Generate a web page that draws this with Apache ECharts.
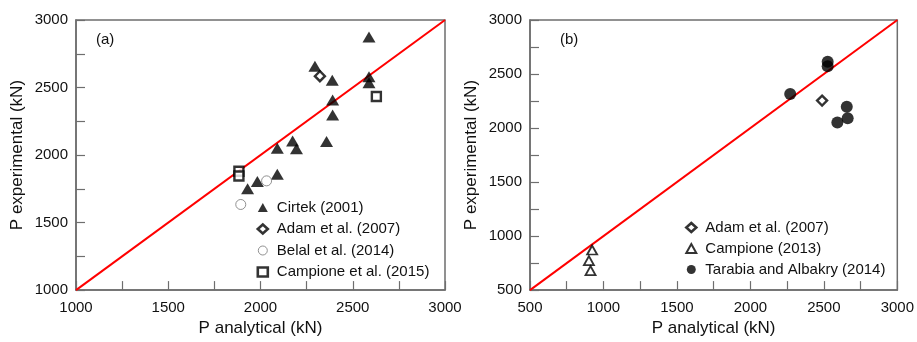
<!DOCTYPE html>
<html>
<head>
<meta charset="utf-8">
<script src="https://cdn.jsdelivr.net/npm/echarts@6/dist/echarts.min.js"></script>
<style>
  html, body { margin: 0; padding: 0; background: #fff; }
  #chart { width: 917px; height: 342px; }
</style>
</head>
<body>
<div id="chart"></div>
<script>
// Panel (a): [P analytical, P experimental] in kN
const cirtek2001 = [
  [2588, 2875], [2295, 2657], [2389, 2553], [2588, 2580], [2588, 2536],
  [2391, 2407], [2391, 2296], [2358, 2100], [2174, 2104], [2195, 2046],
  [2091, 2051], [2091, 1857], [1983, 1804], [1930, 1751]
];
const adam2007a = [[2322, 2584]];
const belal2014 = [[2033, 1809], [1893, 1634]];
const campione2015 = [[1883, 1880], [1883, 1845], [2628, 2434]];

// Panel (b)
const adam2007b = [[2488, 2254]];
const campione2013 = [[923, 871], [901, 772], [912, 681]];
const tarabia2014 = [
  [2526, 2613], [2526, 2572], [2271, 2314], [2656, 2197], [2662, 2091], [2592, 2051]
];

// Equality lines
const equalityA = [[1000, 1000], [3000, 3000]];
const equalityB = [[500, 500], [3000, 3000]];

const FONT = '"Liberation Sans", Arial, sans-serif';
const AXIS_GREY = '#6e6e6e';
const TEXT = '#111';

function valueAxis(min, gridIndex, name, isY) {
  return {
    type: 'value', gridIndex, min, max: 3000, interval: 250,
    name, nameLocation: 'middle', nameGap: isY ? 50 : 27,
    nameTextStyle: { fontFamily: FONT, fontSize: 17, color: TEXT },
    axisLine: { show: true, lineStyle: { color: AXIS_GREY, width: 1.5 } },
    axisTick: { show: true, inside: true, length: 9, lineStyle: { color: AXIS_GREY, width: 1.2 } },
    axisLabel: {
      fontFamily: FONT, fontSize: 15, color: TEXT, margin: isY ? 8 : 10,
      showMinLabel: true, showMaxLabel: true,
      formatter: v => (v % 500 === 0 ? String(v) : '')
    },
    splitLine: { show: false }
  };
}

const hollow = (w, c) => ({ color: '#fff', borderColor: c || '#000', borderWidth: w });

const legendBase = {
  orient: 'vertical', padding: 0, itemWidth: 10, itemHeight: 9,
  textStyle: { fontFamily: FONT, fontSize: 15, color: TEXT, padding: [0, 0, 0, 4] },
  selectedMode: false
};

const option = {
  animation: false,
  backgroundColor: '#fff',
  grid: [
    { left: 76, top: 20, width: 369, height: 275, show: true, borderColor: AXIS_GREY, borderWidth: 1.5, backgroundColor: 'transparent' },
    { left: 530, top: 20, width: 368, height: 276, show: true, borderColor: AXIS_GREY, borderWidth: 1.5, backgroundColor: 'transparent' }
  ],
  xAxis: [
    valueAxis(1000, 0, 'P analytical (kN)', false),
    valueAxis(500, 1, 'P analytical (kN)', false)
  ],
  yAxis: [
    valueAxis(1000, 0, 'P experimental (kN)', true),
    valueAxis(500, 1, 'P experimental (kN)', true)
  ],
  legend: [
    Object.assign({}, legendBase, {
      left: 256.5, top: 200, itemGap: 6.5,
      data: [
        { name: 'Cirtek (2001)', icon: 'triangle', itemStyle: { color: '#000' } },
        { name: 'Adam et al. (2007)', icon: 'diamond', itemStyle: hollow(2.6) },
        { name: 'Belal et al. (2014)', icon: 'circle', itemStyle: hollow(1, '#777') },
        { name: 'Campione et al. (2015)', icon: 'rect', itemStyle: hollow(2.6) }
      ]
    }),
    Object.assign({}, legendBase, {
      left: 685, top: 220, itemGap: 6,
      data: [
        { name: 'Adam et al. (2007)', icon: 'diamond', itemStyle: hollow(2.6) },
        { name: 'Campione (2013)', icon: 'triangle', itemStyle: hollow(2) },
        { name: 'Tarabia and Albakry (2014)', icon: 'circle', itemStyle: { color: '#000' } }
      ]
    })
  ],
  graphic: [
    { type: 'text', left: 96, top: 32, style: { text: '(a)', font: '15px ' + FONT, fill: TEXT } },
    { type: 'text', left: 560, top: 32, style: { text: '(b)', font: '15px ' + FONT, fill: TEXT } }
  ],
  series: [
    { type: 'line', xAxisIndex: 0, yAxisIndex: 0, data: equalityA, symbol: 'none', silent: true,
      lineStyle: { color: '#ff0000', width: 2 }, z: 1 },
    { type: 'line', xAxisIndex: 1, yAxisIndex: 1, data: equalityB, symbol: 'none', silent: true,
      lineStyle: { color: '#ff0000', width: 2 }, z: 1 },

    { name: 'Cirtek (2001)', type: 'scatter', xAxisIndex: 0, yAxisIndex: 0, data: cirtek2001,
      symbol: 'triangle', symbolSize: [13, 11], itemStyle: { color: '#000' }, z: 3 },
    { name: 'Adam et al. (2007)', type: 'scatter', xAxisIndex: 0, yAxisIndex: 0, data: adam2007a,
      symbol: 'diamond', symbolSize: 10, itemStyle: hollow(2.4), z: 4 },
    { name: 'Belal et al. (2014)', type: 'scatter', xAxisIndex: 0, yAxisIndex: 0, data: belal2014,
      symbol: 'circle', symbolSize: 10, itemStyle: hollow(1, '#777'), z: 4 },
    { name: 'Campione et al. (2015)', type: 'scatter', xAxisIndex: 0, yAxisIndex: 0, data: campione2015,
      symbol: 'rect', symbolSize: 9, itemStyle: hollow(2.4), z: 4 },

    { name: 'Adam et al. (2007)', type: 'scatter', xAxisIndex: 1, yAxisIndex: 1, data: adam2007b,
      symbol: 'diamond', symbolSize: 10, itemStyle: hollow(2.4), z: 4 },
    { name: 'Campione (2013)', type: 'scatter', xAxisIndex: 1, yAxisIndex: 1, data: campione2013,
      symbol: 'triangle', symbolSize: [10, 9], itemStyle: hollow(1.8), z: 4 },
    { name: 'Tarabia and Albakry (2014)', type: 'scatter', xAxisIndex: 1, yAxisIndex: 1, data: tarabia2014,
      symbol: 'circle', symbolSize: 12, itemStyle: { color: '#000' }, z: 3 }
  ]
};

const chart = echarts.init(document.getElementById('chart'), null, { renderer: 'canvas' });
chart.setOption(option);
</script>
</body>
</html>
